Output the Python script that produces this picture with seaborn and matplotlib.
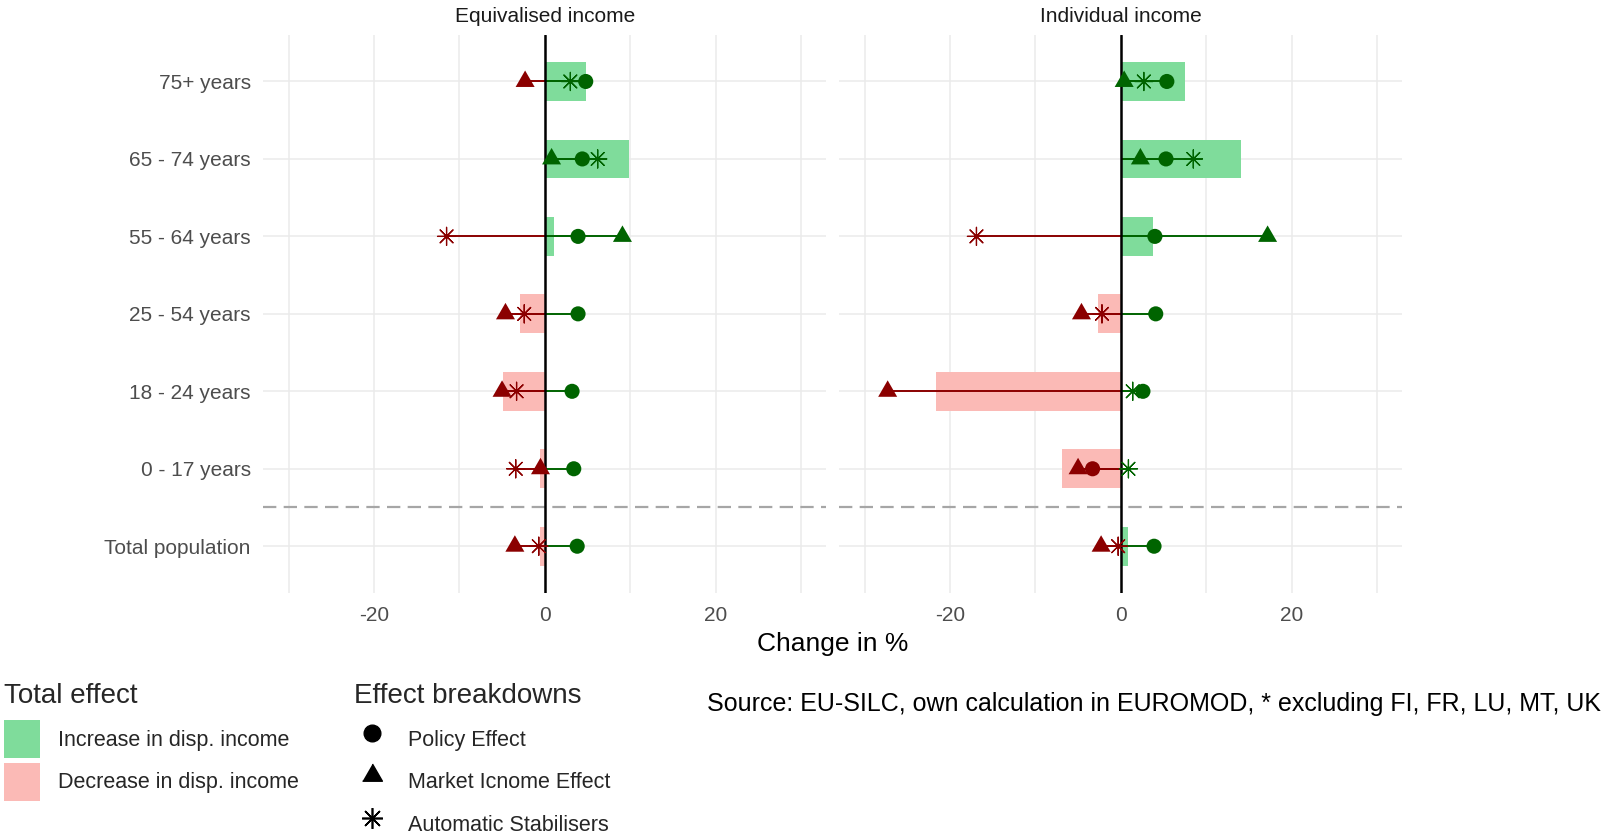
import matplotlib
matplotlib.use("Agg")
import matplotlib.pyplot as plt
from matplotlib.patches import Patch
from matplotlib.lines import Line2D
import numpy as np
import pandas as pd
import seaborn as sns

# ---- data -------------------------------------------------------------
groups = ["75+ years", "65 - 74 years", "55 - 64 years", "25 - 54 years",
          "18 - 24 years", "0 - 17 years", "Total population"]
panels = ["Equivalised income", "Individual income"]

# Equivalised income: change in % by age group
equiv_total = [4.8, 9.9, 1.1, -2.9, -4.9, -0.5, -0.6]
equiv_policy = [4.8, 4.4, 3.9, 3.9, 3.2, 3.4, 3.8]
equiv_market = [-2.3, 0.8, 9.1, -4.6, -5.0, -0.5, -3.5]
equiv_stabilisers = [3.0, 6.2, -11.5, -2.4, -3.3, -3.4, -0.7]

# Individual income: change in % by age group
indiv_total = [7.5, 14.1, 3.8, -2.7, -21.6, -6.9, 0.9]
indiv_policy = [5.4, 5.3, 4.0, 4.1, 2.6, -3.3, 3.9]
indiv_market = [0.4, 2.3, 17.2, -4.6, -27.3, -5.0, -2.3]
indiv_stabilisers = [2.7, 8.5, -16.9, -2.2, 1.4, 0.9, -0.3]

x_ticks = [-20, 0, 20]
x_minor = [-30, -10, 10, 30]

# ---- style ------------------------------------------------------------
sns.set_theme(style="white")
plt.rcParams["font.family"] = ["Liberation Sans", "DejaVu Sans"]
plt.rcParams["axes.unicode_minus"] = False

GREEN_FILL = "#7FDC9B"
RED_FILL = "#FBBAB6"
GREEN = "#006400"
RED = "#8B0000"
GRID = "#EBEBEB"
TICK_TXT = "#4D4D4D"

TRIANGLE = [(-1.0, -0.577), (1.0, -0.577), (0.0, 1.155)]
STAR = (8, 2, 0)

W, H = 1606, 839
fig = plt.figure(figsize=(W / 100, H / 100), dpi=100)

ax_top, ax_bot = 35, 592.7
ax_w = 563.5
axes = [
    fig.add_axes([263 / W, 1 - ax_bot / H, ax_w / W, (ax_bot - ax_top) / H]),
    fig.add_axes([839 / W, 1 - ax_bot / H, ax_w / W, (ax_bot - ax_top) / H]),
]

panel_data = [
    (equiv_total, equiv_policy, equiv_market, equiv_stabilisers),
    (indiv_total, indiv_policy, indiv_market, indiv_stabilisers),
]

effects = [
    ("policy", "o", 118, 0),
    ("market", TRIANGLE, 250, 0),
    ("stabilisers", STAR, 170, 0.9),
]

for i, (ax, title, (tot, pol, mkt, stab)) in enumerate(zip(axes, panels, panel_data)):
    pos = np.arange(len(groups))
    df = pd.DataFrame({"group": groups, "pos": pos, "total": tot,
                       "policy": pol, "market": mkt, "stabilisers": stab})
    df["sign"] = np.where(df["total"] >= 0, "up", "down")

    # total effect bars
    sns.barplot(data=df, x="total", y="pos", hue="sign", orient="h",
                native_scale=True, width=0.5, dodge=False, errorbar=None,
                palette={"up": GREEN_FILL, "down": RED_FILL},
                hue_order=["up", "down"], saturation=1, legend=False,
                linewidth=0, ax=ax, zorder=1)

    long = df.melt(id_vars=["group", "pos"],
                   value_vars=["policy", "market", "stabilisers"],
                   var_name="effect", value_name="value")
    long["sign"] = np.where(long["value"] >= 0, "up", "down")

    # segments from zero to each effect
    ax.hlines(long["pos"], 0, long["value"],
              colors=[GREEN if v >= 0 else RED for v in long["value"]],
              lw=1.4, zorder=2)

    ax.axvline(0, color="black", lw=1.8, zorder=2.5)
    ax.axhline(5.5, color="#A6A6A6", lw=1.6, ls=(0, (6, 3.3)), zorder=0.8)

    for eff, marker, size, lw in effects:
        sub = long[long["effect"] == eff]
        sns.scatterplot(data=sub, x="value", y="pos", hue="sign",
                        palette={"up": GREEN, "down": RED},
                        marker=marker, s=size, linewidth=lw,
                        legend=False, ax=ax, zorder=4)

    ax.set_xlim(-33, 33)
    ax.set_ylim(len(groups) - 0.4, -0.6)
    ax.set_xticks(x_ticks, [str(t) for t in x_ticks])
    ax.set_xticks(x_minor, minor=True)
    ax.set_yticks(pos)
    if i == 0:
        ax.set_yticklabels(groups)
    else:
        ax.set_yticklabels([])
    ax.set_xlabel("")
    ax.set_ylabel("")
    ax.tick_params(which="both", length=0)
    ax.tick_params(axis="y", pad=8.8, labelsize=15, labelcolor=TICK_TXT)
    ax.tick_params(axis="x", pad=9.5, labelsize=15, labelcolor=TICK_TXT)
    ax.grid(True, which="major", axis="both", color=GRID, lw=1.1)
    ax.grid(True, which="minor", axis="x", color=GRID, lw=1.1)
    ax.set_axisbelow(True)
    sns.despine(ax=ax, left=True, bottom=True)
    ax.set_title(title, fontsize=15, color="#1A1A1A", pad=9.5)

fig.text(832.5 / W, 1 - 644 / H, "Change in %", ha="center", va="center",
         fontsize=19, color="black")

fig.text(707 / W, 1 - 704 / H,
         "Source: EU-SILC, own calculation in EUROMOD, * excluding FI, FR, LU, MT, UK",
         ha="left", va="center", fontsize=18, color="black")

# ---- legends ----------------------------------------------------------
legend_kw = dict(loc="upper left", bbox_transform=fig.transFigure,
                 frameon=False, fontsize=15.5, title_fontsize=20,
                 handlelength=1.67, handleheight=2.34, handletextpad=0.82,
                 labelspacing=0.21, borderpad=0, borderaxespad=0,
                 alignment="left")

fill_handles = [Patch(facecolor=GREEN_FILL, edgecolor="none"),
                Patch(facecolor=RED_FILL, edgecolor="none")]
leg1 = fig.legend(fill_handles, ["Increase in disp. income", "Decrease in disp. income"],
                  title="Total effect", bbox_to_anchor=(4 / W, 1 - 683 / H),
                  **legend_kw)

shape_handles = [
    Line2D([], [], ls="none", marker="o", color="black", markersize=12),
    Line2D([], [], ls="none", marker=TRIANGLE, color="black", markersize=16.5),
    Line2D([], [], ls="none", marker=STAR, color="black", markersize=15,
           markeredgewidth=1.2),
]
leg2 = fig.legend(shape_handles, ["Policy Effect", "Market Icnome Effect", "Automatic Stabilisers"],
                  title="Effect breakdowns", bbox_to_anchor=(354 / W, 1 - 683 / H),
                  **legend_kw)

# a little more room between legend titles and their keys
for leg in (leg1, leg2):
    leg._legend_box.sep = 8

fig.savefig("out.png", dpi=100)
